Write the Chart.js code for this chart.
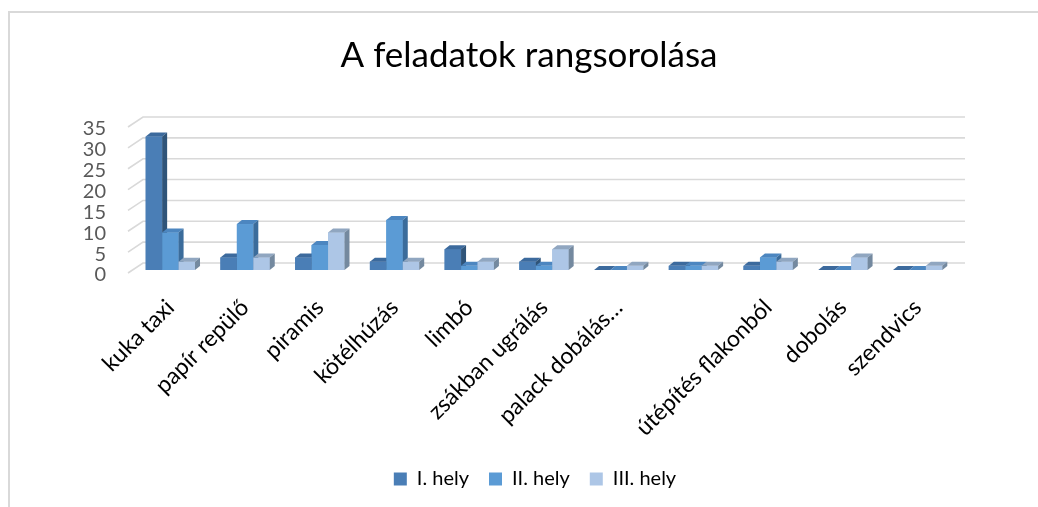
<!DOCTYPE html>
<html>
<head>
<meta charset="utf-8">
<script src="https://cdn.jsdelivr.net/npm/chart.js@4/dist/chart.umd.min.js"></script>
<style>
  body { margin: 0; background: #fff; overflow: hidden; }
  #frame { position: absolute; left: 8px; top: 11px; width: 1100px; height: 600px;
           border-left: 2px solid #d9d9d9; border-top: 2px solid #d9d9d9; }
  #salesChart { position: absolute; left: 0; top: 0; }
</style>
</head>
<body>
<div id="frame"></div>
<canvas id="salesChart" width="1038" height="507"></canvas>
<script>
// Feladatok (kategóriák)
const feladatok = ["kuka taxi", "papír repülő", "piramis", "kötélhúzás", "limbó",
    "zsákban ugrálás", "palack dobálás…", "", "útépítés flakonból", "dobolás", "szendvics"];

// Helyezések száma
const hely1 = [32, 3, 3, 2, 5, 2, 0, 1, 1, 0, 0];
const hely2 = [9, 11, 6, 12, 1, 1, 0, 1, 3, 0, 0];
const hely3 = [2, 3, 9, 2, 2, 5, 1, 1, 2, 3, 1];

const sorozatNevek = ["I. hely", "II. hely", "III. hely"];
const yTicks = [0, 5, 10, 15, 20, 25, 30, 35];

// szinek: elol, oldal, teteje
const szinek = [
    { front: "#4a7eb6", side: "#2f5479", top: "#3c6a9d" },
    { front: "#5b9bd5", side: "#3b6c9b", top: "#4c86c0" },
    { front: "#adc6e6", side: "#74899f", top: "#90a6c0" }
];

const FONT = "Lato, 'Liberation Sans', sans-serif";
const DX = 5, DY = 4;     // 3D mélység
const WX = 15, WY = 7;    // hátfal eltolás

// hátfal rácsvonalak + 3D oszlopok
const plugin3d = {
    id: "plugin3d",
    afterLayout(chart) {
        // cím és jelmagyarázat kicsit jobbra, mint az eredetin
        chart.titleBlock.left += 15;
        chart.titleBlock.right += 15;
        chart.legend.left += 21;
        chart.legend.right += 21;
    },
    beforeDatasetsDraw(chart) {
        const ctx = chart.ctx;
        const y = chart.scales.y;
        const area = chart.chartArea;
        ctx.save();
        ctx.strokeStyle = "#d9d9d9";
        ctx.lineWidth = 1.6;
        yTicks.forEach(v => {
            const py = y.getPixelForValue(v);
            ctx.beginPath();
            ctx.moveTo(area.left - 5, py + 3);
            ctx.lineTo(area.left + WX - 5, py - WY);
            ctx.lineTo(area.right + WX - 5, py - WY);
            ctx.stroke();
        });
        ctx.restore();
    },
    afterDatasetsDraw(chart) {
        const ctx = chart.ctx;
        ctx.save();
        for (let i = 0; i < feladatok.length; i++) {
            chart.data.datasets.forEach((ds, d) => {
                const el = chart.getDatasetMeta(d).data[i];
                const p = el.getProps(["x", "y", "base", "width"], true);
                const l = p.x - p.width / 2, r = p.x + p.width / 2;
                const t = Math.min(p.y, p.base), b = p.base;
                const c = szinek[d];
                ctx.fillStyle = c.front;
                ctx.fillRect(l, t, r - l, b - t);
                ctx.fillStyle = c.top;
                ctx.beginPath();
                ctx.moveTo(l, t); ctx.lineTo(l + DX, t - DY);
                ctx.lineTo(r + DX, t - DY); ctx.lineTo(r, t);
                ctx.closePath(); ctx.fill();
                ctx.fillStyle = c.side;
                ctx.beginPath();
                ctx.moveTo(r, t); ctx.lineTo(r + DX, t - DY);
                ctx.lineTo(r + DX, b - DY); ctx.lineTo(r, b);
                ctx.closePath(); ctx.fill();
            });
        }
        ctx.restore();
    }
};

const ctx = document.getElementById("salesChart").getContext("2d");
new Chart(ctx, {
    type: "bar",
    data: {
        labels: feladatok,
        datasets: [hely1, hely2, hely3].map((vals, d) => ({
            label: sorozatNevek[d],
            data: vals,
            backgroundColor: szinek[d].front,
            borderWidth: 0,
            categoryPercentage: 0.66,
            barPercentage: 1.0
        }))
    },
    options: {
        responsive: false,
        animation: false,
        layout: { padding: { left: 73, right: 83, top: 0, bottom: 8 } },
        plugins: {
            tooltip: { enabled: false },
            title: {
                display: true,
                text: "A feladatok rangsorolása",
                color: "#000",
                font: { family: FONT, size: 35, weight: "normal" },
                padding: { top: 35, bottom: 47 }
            },
            legend: {
                position: "bottom",
                labels: {
                    boxWidth: 13, boxHeight: 13, padding: 20,
                    color: "#000",
                    font: { family: FONT, size: 20 }
                }
            }
        },
        scales: {
            x: {
                grid: { display: false },
                border: { display: false },
                ticks: {
                    color: "#000",
                    font: { family: FONT, size: 23 },
                    minRotation: 45, maxRotation: 45,
                    autoSkip: false, padding: 16
                },
                afterFit(scale) { scale.height = 179; }
            },
            y: {
                min: 0, max: 35,
                grid: { display: false, drawTicks: false },
                border: { display: false },
                ticks: {
                    stepSize: 5,
                    autoSkip: false,
                    color: "#595959",
                    font: { family: FONT, size: 20 },
                    padding: 27,
                    labelOffset: 5
                },
                afterFit(scale) { scale.width = 60; }
            }
        }
    },
    plugins: [plugin3d]
});
</script>
</body>
</html>
